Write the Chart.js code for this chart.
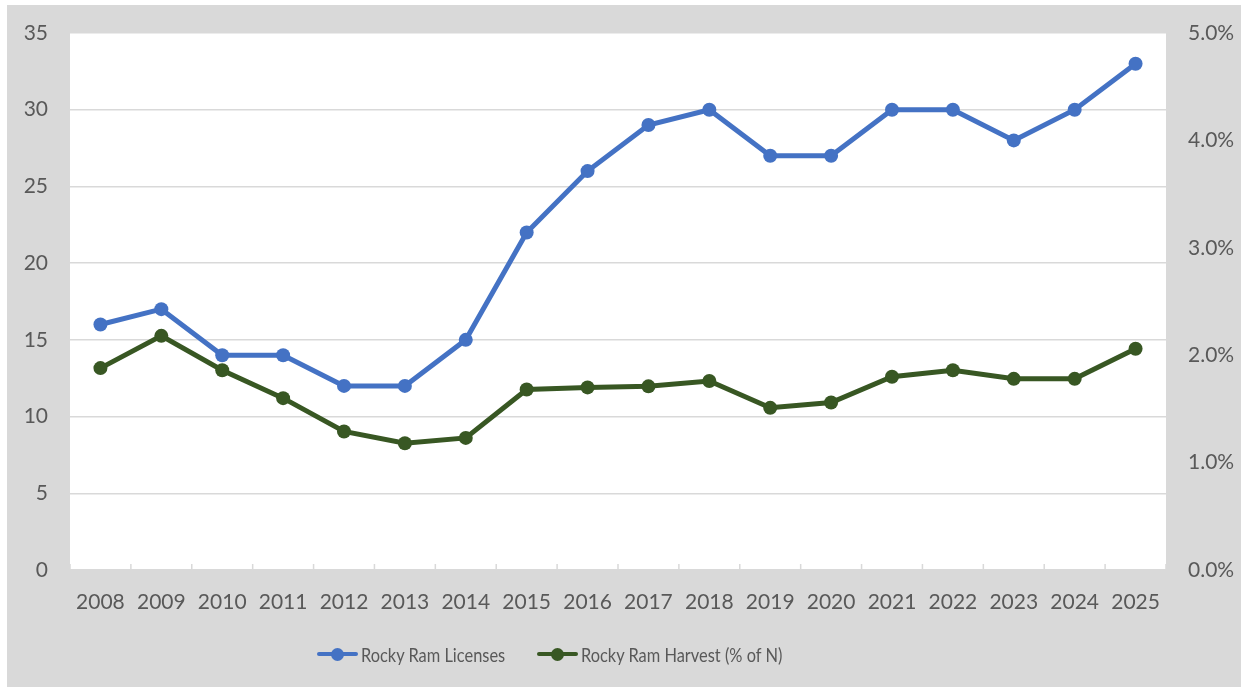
<!DOCTYPE html>
<html>
<head>
<meta charset="utf-8">
<script src="https://cdn.jsdelivr.net/npm/chart.js@4.4.1/dist/chart.umd.min.js"></script>
<style>
  html, body { margin: 0; padding: 0; background: #fff; }
  #frame { position: absolute; left: 7px; top: 5px; width: 1234px; height: 682px; background: #d9d9d9; }
  #chart { position: absolute; left: 0; top: 0; }
  .item { position: absolute; top: 637px; display: flex; align-items: center; font-family: Lato, sans-serif; font-size: 20px; color: #595959; white-space: nowrap; }
  .item .txt { display: inline-block; transform: scaleX(0.82); transform-origin: left center; }
  .mark { position: relative; width: 41px; height: 14px; margin-right: 3px; }
  .mark .ln { position: absolute; left: 0; right: 0; top: 5px; height: 4px; border-radius: 2px; }
  .mark .dt { position: absolute; left: 14px; top: 1px; width: 13px; height: 13px; border-radius: 50%; }
</style>
</head>
<body>
<div id="frame">
  <canvas id="chart" width="1234" height="682"></canvas>
</div>
<script>
const years = ['2008', '2009', '2010', '2011', '2012', '2013', '2014', '2015', '2016', '2017', '2018', '2019', '2020', '2021', '2022', '2023', '2024', '2025'];
const licenses = [16, 17, 14, 14, 12, 12, 15, 22, 26, 29, 30, 27, 27, 30, 30, 28, 30, 33];
const harvestPct = [1.88, 2.18, 1.86, 1.60, 1.29, 1.18, 1.23, 1.68, 1.70, 1.71, 1.76, 1.51, 1.56, 1.80, 1.86, 1.78, 1.78, 2.06];
const seriesNames = ['Rocky Ram Licenses', 'Rocky Ram Harvest (% of N)'];
const seriesColors = ['#4472c4', '#385723'];

const FONT = { family: 'Lato, sans-serif', size: 21 };
const TEXT = '#595959';
const GRID = '#d9d9d9';

// white plot area inside the grey frame
const plotBg = {
    id: 'plotBg',
    beforeDraw(chart) {
        const a = chart.chartArea;
        chart.ctx.save();
        chart.ctx.fillStyle = '#fff';
        chart.ctx.fillRect(a.left, a.top - 1, a.right - a.left, a.bottom - a.top + 1);
        chart.ctx.restore();
    }
};

// small inward tick marks between categories
const innerTicks = {
    id: 'innerTicks',
    afterDraw(chart) {
        const x = chart.scales.x;
        const n = x.ticks.length;
        const step = (x.right - x.left) / n;
        const ctx = chart.ctx;
        ctx.save();
        ctx.strokeStyle = GRID;
        ctx.lineWidth = 1.5;
        ctx.beginPath();
        for (let i = 0; i <= n; i++) {
            const px = x.left + i * step;
            ctx.moveTo(px, x.top - 6);
            ctx.lineTo(px, x.top);
        }
        ctx.stroke();
        ctx.restore();
    }
};

function fixWidth(w) {
    return s => { s.width = w; s.paddingTop = 0; s.paddingBottom = 0; };
}

new Chart(document.getElementById('chart'), {
    type: 'line',
    data: {
        labels: years,
        datasets: [{
            label: seriesNames[0],
            data: licenses,
            borderColor: seriesColors[0],
            backgroundColor: seriesColors[0],
            borderWidth: 5,
            pointRadius: 7,
            pointHoverRadius: 7,
            pointBorderWidth: 0,
            tension: 0,
            yAxisID: 'y'
        }, {
            label: seriesNames[1],
            data: harvestPct,
            borderColor: seriesColors[1],
            backgroundColor: seriesColors[1],
            borderWidth: 5,
            pointRadius: 7,
            pointHoverRadius: 7,
            pointBorderWidth: 0,
            tension: 0,
            yAxisID: 'y1'
        }]
    },
    options: {
        responsive: false,
        devicePixelRatio: 1,
        animation: false,
        layout: { padding: { top: 28, left: 0, right: 0, bottom: 0 } },
        plugins: {
            legend: { display: false },
            tooltip: { enabled: false }
        },
        scales: {
            x: {
                offset: true,
                grid: { display: false, drawTicks: false },
                border: { display: true, color: GRID, width: 1.5 },
                ticks: { font: FONT, color: TEXT, padding: 20, maxRotation: 0, autoSkip: false },
                afterFit(s) { s.height = 117; }
            },
            y: {
                position: 'left',
                min: 0,
                max: 35,
                grid: { color: GRID, lineWidth: 1.5, drawTicks: false },
                border: { display: false },
                ticks: { stepSize: 5, font: FONT, color: TEXT, padding: 22 },
                afterFit: fixWidth(63)
            },
            y1: {
                position: 'right',
                min: 0,
                max: 5,
                grid: { display: false, drawTicks: false },
                border: { display: false },
                ticks: { stepSize: 1, font: FONT, color: TEXT, padding: 22, callback: v => v.toFixed(1) + '%' },
                afterFit: fixWidth(75)
            }
        }
    },
    plugins: [plotBg, innerTicks]
});

// legend drawn as html so the line+marker symbols match
const legendLeft = [310, 530];
const frame = document.getElementById('frame');
seriesNames.forEach((name, i) => {
    const item = document.createElement('div');
    item.className = 'item';
    item.style.left = legendLeft[i] + 'px';
    item.innerHTML = '<span class="mark"><span class="ln" style="background:' + seriesColors[i] + '"></span>' +
        '<span class="dt" style="background:' + seriesColors[i] + '"></span></span><span class="txt">' + name + '</span>';
    frame.appendChild(item);
});
</script>
</body>
</html>
